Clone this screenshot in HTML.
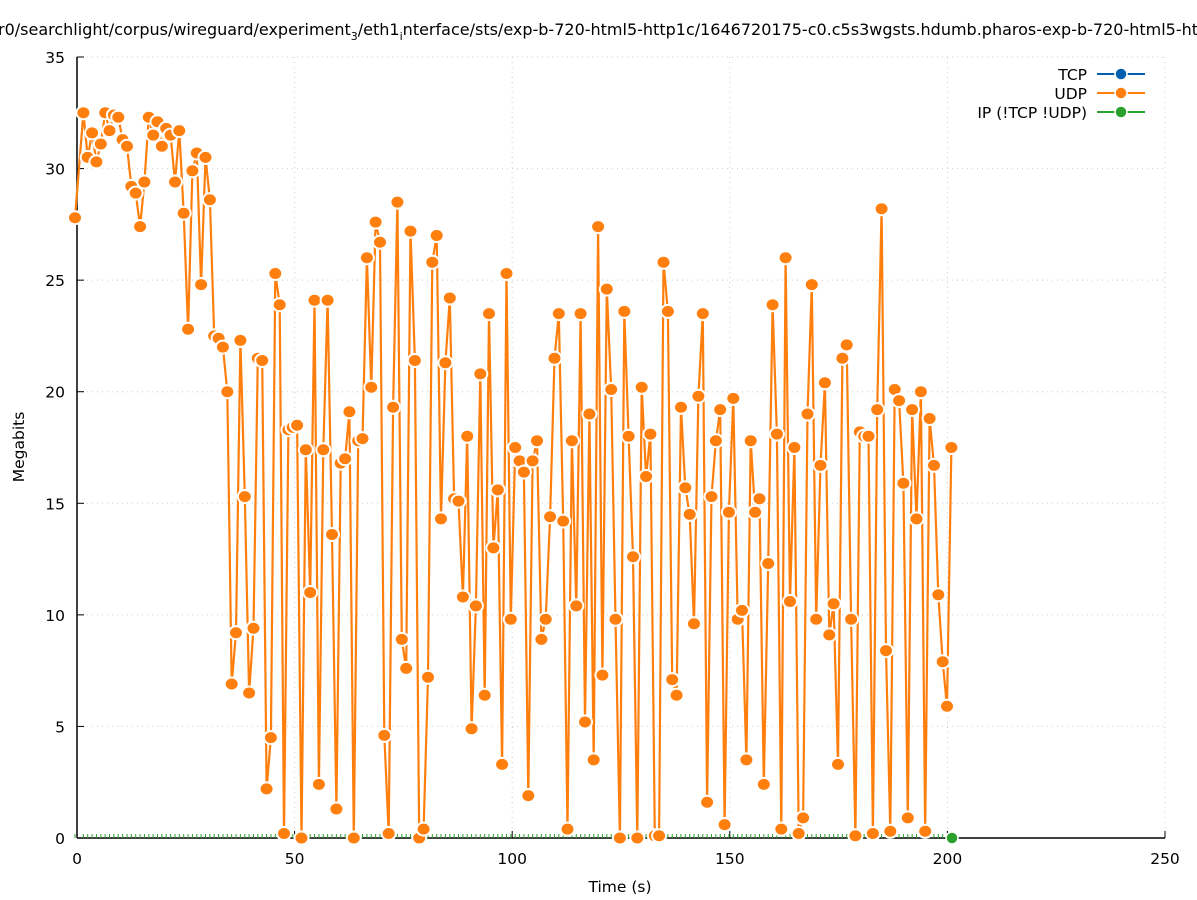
<!DOCTYPE html>
<html><head><meta charset="utf-8"><style>
html,body{margin:0;padding:0;background:#fff;}
svg{display:block;font-family:"DejaVu Sans","Liberation Sans",sans-serif;}
</style></head><body>
<svg id="s" width="1197" height="900" xmlns="http://www.w3.org/2000/svg">
<rect width="1197" height="900" fill="#fff"/>
<g id="grid" stroke="#cccccc" stroke-width="1" stroke-dasharray="1,4"></g>
<text x="-2" y="35" font-size="16" fill="#000">r0/searchlight/corpus/wireguard/experiment<tspan font-size="11" dy="5">3</tspan><tspan dy="-5">/eth1</tspan><tspan font-size="11" dy="5">i</tspan><tspan dy="-5">nterface/sts/exp-b-720-html5-http1c/1646720175-c0.c5s3wgsts.hdumb.pharos-exp-b-720-html5-ht</tspan></text>
<g id="ticks" font-size="15.5" fill="#000"></g>
<line x1="77" y1="57" x2="77" y2="838" stroke="#000" stroke-width="1.5"/>
<line x1="77" y1="838" x2="1165" y2="838" stroke="#000" stroke-width="1.5"/>
<text x="620" y="892" font-size="15.5" text-anchor="middle">Time (s)</text>
<text transform="translate(24,447) rotate(-90)" font-size="15.5" text-anchor="middle">Megabits</text>
<g id="green" stroke="#2ca02c" stroke-width="1"></g>
<polyline id="pl" fill="none" stroke="#ff7f0e" stroke-width="2.2" stroke-linejoin="round"/>
<g id="pts" fill="#ff7f0e" stroke="#fff" stroke-width="2"></g>
<circle cx="952" cy="838" r="6" fill="#2ca02c" stroke="#fff" stroke-width="1.5"/>
<g font-size="15.5" text-anchor="end">
<text x="1087" y="80">TCP</text>
<text x="1087" y="99">UDP</text>
<text x="1087" y="118">IP (!TCP  !UDP)</text>
</g>
<g stroke-width="2">
<line x1="1097" y1="74" x2="1145" y2="74" stroke="#0060ad"/><circle cx="1121" cy="74" r="6" fill="#0060ad" stroke="#fff" stroke-width="1.5"/>
<line x1="1097" y1="93" x2="1145" y2="93" stroke="#ff7f0e"/><circle cx="1121" cy="93" r="6" fill="#ff7f0e" stroke="#fff" stroke-width="1.5"/>
<line x1="1097" y1="112" x2="1145" y2="112" stroke="#2ca02c"/><circle cx="1121" cy="112" r="6" fill="#2ca02c" stroke="#fff" stroke-width="1.5"/>
</g>
</svg>
<script>
var NS="http://www.w3.org/2000/svg";
function el(t,a,p){var e=document.createElementNS(NS,t);for(var k in a)e.setAttribute(k,a[k]);p.appendChild(e);return e;}
var X=function(t){return 77+t*4.352;},Y=function(v){return 838-v*22.314;};
var g=document.getElementById('grid'),tk=document.getElementById('ticks');
for(var v=0;v<=35;v+=5){var y=Y(v);if(v>0)el('line',{x1:77,y1:y,x2:1165,y2:y},g);el('line',{x1:77,y1:y,x2:84,y2:y,stroke:'#000'},tk);var t=el('text',{x:65,y:y+6,'text-anchor':'end'},tk);t.textContent=v;}
for(var v=0;v<=250;v+=50){var x=X(v);if(v>0)el('line',{x1:x,y1:57,x2:x,y2:838},g);el('line',{x1:x,y1:838,x2:x,y2:831,stroke:'#000'},tk);var t=el('text',{x:x,y:864,'text-anchor':'middle'},tk);t.textContent=v;}
var d=[27.8,32.5,30.5,31.6,30.3,31.1,32.5,31.7,32.4,32.3,31.3,31.0,29.2,28.9,27.4,29.4,32.3,31.5,32.1,31.0,31.8,31.5,29.4,31.7,28.0,22.8,29.9,30.7,24.8,30.5,28.6,22.5,22.4,22.0,20.0,6.9,9.2,22.3,15.3,6.5,9.4,21.5,21.4,2.2,4.5,25.3,23.9,0.2,18.3,18.4,18.5,0,17.4,11.0,24.1,2.4,17.4,24.1,13.6,1.3,16.8,17.0,19.1,0,17.8,17.9,26.0,20.2,27.6,26.7,4.6,0.2,19.3,28.5,8.9,7.6,27.2,21.4,0,0.4,7.2,25.8,27.0,14.3,21.3,24.2,15.2,15.1,10.8,18.0,4.9,10.4,20.8,6.4,23.5,13.0,15.6,3.3,25.3,9.8,17.5,16.9,16.4,1.9,16.9,17.8,8.9,9.8,14.4,21.5,23.5,14.2,0.4,17.8,10.4,23.5,5.2,19.0,3.5,27.4,7.3,24.6,20.1,9.8,0,23.6,18.0,12.6,0,20.2,16.2,18.1,0.1,0.1,25.8,23.6,7.1,6.4,19.3,15.7,14.5,9.6,19.8,23.5,1.6,15.3,17.8,19.2,0.6,14.6,19.7,9.8,10.2,3.5,17.8,14.6,15.2,2.4,12.3,23.9,18.1,0.4,26.0,10.6,17.5,0.2,0.9,19.0,24.8,9.8,16.7,20.4,9.1,10.5,3.3,21.5,22.1,9.8,0.1,18.2,18.0,18.0,0.2,19.2,28.2,8.4,0.3,20.1,19.6,15.9,0.9,19.2,14.3,20.0,0.3,18.8,16.7,10.9,7.9,5.9,17.5];
var pts=[],pg=document.getElementById('pts'),gr=document.getElementById('green');
for(var i=0;i<d.length;i++){var x=(i==0?75:79+i*4.362),y=Y(d[i]);pts.push(x.toFixed(1)+','+y.toFixed(1));el('line',{x1:x,y1:838,x2:x,y2:834},gr);}
document.getElementById('pl').setAttribute('points',pts.join(' '));
for(var i=0;i<pts.length;i++){var p=pts[i].split(',');el('ellipse',{cx:p[0],cy:p[1],rx:7,ry:6.5},pg);}
</script>
</body></html>
